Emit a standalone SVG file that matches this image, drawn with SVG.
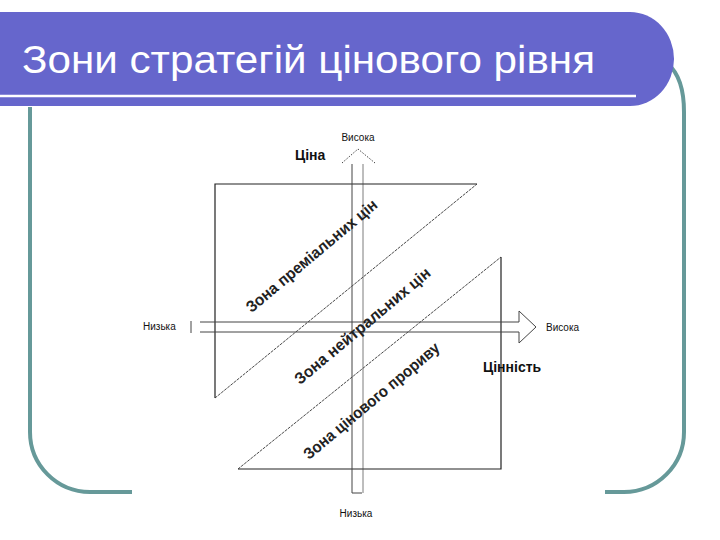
<svg xmlns="http://www.w3.org/2000/svg" width="720" height="540" viewBox="0 0 720 540">
<style>
.frame{fill:none;stroke:#669999;stroke-width:4}
.ln{fill:none;stroke:#222;stroke-width:1.2}
.dg{fill:none;stroke:#333;stroke-width:0.9;stroke-dasharray:3 1}
.ax{fill:none;stroke:#444;stroke-width:1}
.lbl{font-family:"Liberation Sans",Arial,sans-serif;font-size:10px;fill:#111}
.bl{font-family:"Liberation Sans",Arial,sans-serif;font-size:14px;font-weight:bold;fill:#111}
.zone{font-family:"Liberation Sans",Arial,sans-serif;font-size:16px;font-weight:bold;fill:#222}
</style>
<rect width="720" height="540" fill="#fff"/>
<g id="frame">
<path class="frame" d="M 30 107 L 30 432 A 60 60 0 0 0 90 492 L 132 492"/>
<path class="frame" d="M 668 64 Q 684 78 684 112 L 684 432 A 60 60 0 0 1 624 492 L 605 492"/>
</g>
<g id="title">
<path d="M 0 12 L 630 12 A 44 47 0 0 1 630 106 L 0 106 Z" fill="#6666cc"/>
<line x1="0" y1="96" x2="636" y2="96" stroke="#fff" stroke-width="2.5"/>
<text x="22" y="73" font-family="'Liberation Sans',Arial,sans-serif" font-size="38" fill="#fff" textLength="573" lengthAdjust="spacingAndGlyphs">Зони стратегій цінового рівня</text>
</g>
<g id="zone-premium">
<path class="ln" d="M 215 398 L 215 184 L 477 184"/>
<path class="dg" d="M 215 398 L 477 184"/>
</g>
<g id="zone-breakthrough">
<path class="ln" d="M 238 469 L 501 469 L 501 257"/>
<path class="dg" d="M 238 469 L 501 257"/>
</g>
<g id="connectors">
<g id="axis-price">
<line class="ax" x1="352" y1="164" x2="352" y2="493"/>
<line class="ax" x1="363" y1="164" x2="363" y2="493" stroke-opacity="0.7"/>
<line class="ax" x1="352" y1="493" x2="362" y2="493"/>
<path d="M 342 163 L 358 149 L 375 163" fill="none" stroke="#444" stroke-width="1" stroke-dasharray="1.5 1.5"/>
</g>
<g id="axis-value">
<line class="ax" x1="200" y1="322" x2="519" y2="322"/>
<line class="ax" x1="200" y1="332" x2="519" y2="332"/>
<line class="ax" x1="191" y1="321" x2="191" y2="333"/>
<path class="ax" d="M 519 322 L 519 311 L 536 327 L 519 343 L 519 332"/>
</g>
</g>
<g id="labels">
<text class="lbl" x="358" y="141" text-anchor="middle">Висока</text>
<text class="bl" x="295" y="160">Ціна</text>
<text class="lbl" x="143" y="330">Низька</text>
<text class="lbl" x="546" y="331">Висока</text>
<text class="bl" x="483" y="372">Цінність</text>
<text class="lbl" x="356" y="517" text-anchor="middle">Низька</text>
</g>
<g id="zone-labels">
<text class="zone" text-anchor="middle" transform="translate(315 260) rotate(-40)" textLength="166" lengthAdjust="spacingAndGlyphs">Зона преміальних цін</text>
<text class="zone" text-anchor="middle" transform="translate(366 330) rotate(-40)" textLength="172" lengthAdjust="spacingAndGlyphs">Зона нейтральних цін</text>
<text class="zone" text-anchor="middle" transform="translate(375 405) rotate(-40)" textLength="172" lengthAdjust="spacingAndGlyphs">Зона цінового прориву</text>
</g>
</svg>
